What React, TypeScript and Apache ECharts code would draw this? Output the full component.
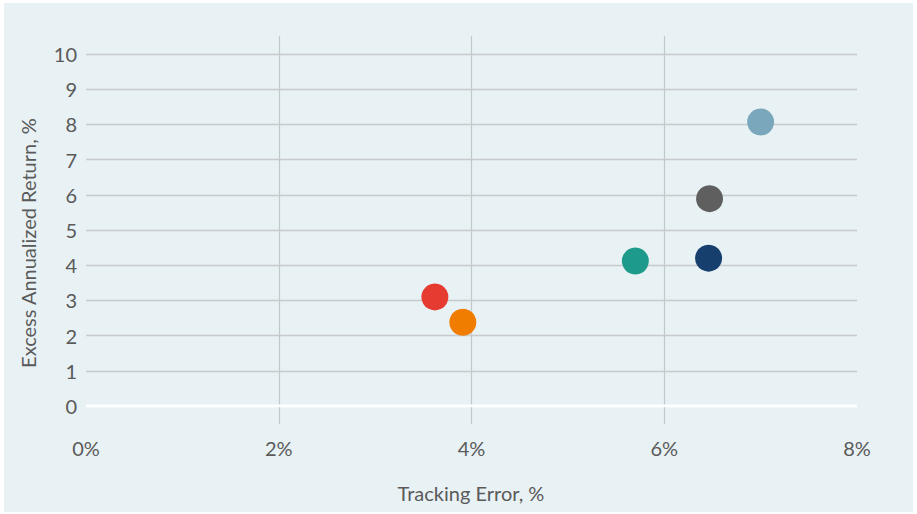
import React, { useEffect, useRef } from "react";
import * as echarts from "echarts";

const trackingError = [7.0, 6.47, 6.46, 5.7, 3.62, 3.91];
const excessReturn = [8.07, 5.89, 4.2, 4.12, 3.1, 2.38];
const pointColors = ["#7ba7bc", "#5f5f5f", "#173f6e", "#1e9a8a", "#e63b31", "#f07d00"];
const xTicks = [0, 2, 4, 6, 8];
const yTicks = [0, 1, 2, 3, 4, 5, 6, 7, 8, 9, 10];

const FONT = "Lato";
const TEXT = "#5a5a5a";

export default function App() {
  const ref = useRef<HTMLDivElement>(null);
  useEffect(() => {
    if (!ref.current) return;
    const chart = echarts.init(ref.current, null, { renderer: "svg" });
    const data = trackingError.map((x, i) => ({
      value: [x, excessReturn[i]],
      itemStyle: { color: pointColors[i], opacity: 1 },
    }));
    chart.setOption({
      animation: false,
      backgroundColor: "#ffffff",
      textStyle: { fontFamily: FONT },
      graphic: [
        {
          type: "rect",
          z: -10,
          silent: true,
          shape: { x: 4, y: 3, width: 909, height: 509 },
          style: { fill: "#e8f1f4" },
        },
        {
          type: "text",
          x: 471,
          y: 493,
          style: {
            text: "Tracking Error, %",
            fill: TEXT,
            font: `20px ${FONT}`,
            align: "center",
            verticalAlign: "middle",
          },
        },
        {
          type: "text",
          x: 28,
          y: 243,
          rotation: Math.PI / 2,
          style: {
            text: "Excess Annualized Return, %",
            fill: TEXT,
            font: `20px ${FONT}`,
            align: "center",
            verticalAlign: "middle",
          },
        },
      ],
      grid: [
        { left: 86, top: 36, width: 771, height: 388 },
        { left: 86, top: 54, width: 771, height: 352 },
      ],
      xAxis: [
        {
          gridIndex: 0,
          type: "value",
          min: xTicks[0],
          max: xTicks[xTicks.length - 1],
          interval: 2,
          axisLine: { show: false },
          axisTick: { show: false },
          axisLabel: {
            margin: 14,
            color: TEXT,
            fontSize: 20,
            fontFamily: FONT,
            formatter: (v: number) => `${v}%`,
          },
          splitLine: {
            show: true,
            showMinLine: false,
            showMaxLine: false,
            lineStyle: { color: "#c4c8ca", width: 1.2 },
          },
        },
        {
          gridIndex: 1,
          type: "value",
          min: xTicks[0],
          max: xTicks[xTicks.length - 1],
          interval: 2,
          axisLine: { show: false },
          axisTick: { show: false },
          axisLabel: { show: false },
          splitLine: { show: false },
        },
      ],
      yAxis: [
        {
          gridIndex: 0,
          type: "value",
          min: -0.5,
          max: 10.5,
          axisLine: { show: false },
          axisTick: { show: false },
          axisLabel: { show: false },
          splitLine: { show: false },
        },
        {
          gridIndex: 1,
          type: "value",
          min: yTicks[0],
          max: yTicks[yTicks.length - 1],
          interval: 1,
          axisLine: { show: false },
          axisTick: { show: false },
          axisLabel: {
            margin: 9,
            color: TEXT,
            fontSize: 20,
            fontFamily: FONT,
          },
          splitLine: {
            show: true,
            lineStyle: {
              color: yTicks.map((t) => (t === 0 ? "#ffffff" : "#c8cbcd")),
              width: 1.3,
            },
          },
        },
      ],
      series: [
        {
          type: "scatter",
          xAxisIndex: 1,
          yAxisIndex: 1,
          symbol: "circle",
          symbolSize: 27,
          itemStyle: { opacity: 1 },
          data,
          z: 5,
        },
        {
          type: "line",
          xAxisIndex: 1,
          yAxisIndex: 1,
          data: [
            [xTicks[0], 0],
            [xTicks[xTicks.length - 1], 0],
          ],
          symbol: "none",
          silent: true,
          lineStyle: { color: "#ffffff", width: 3 },
          z: 3,
        },
      ],
    });
    return () => chart.dispose();
  }, []);
  return (
    <div
      ref={ref}
      style={{ position: "absolute", left: 0, top: 0, width: 917, height: 514 }}
    />
  );
}
